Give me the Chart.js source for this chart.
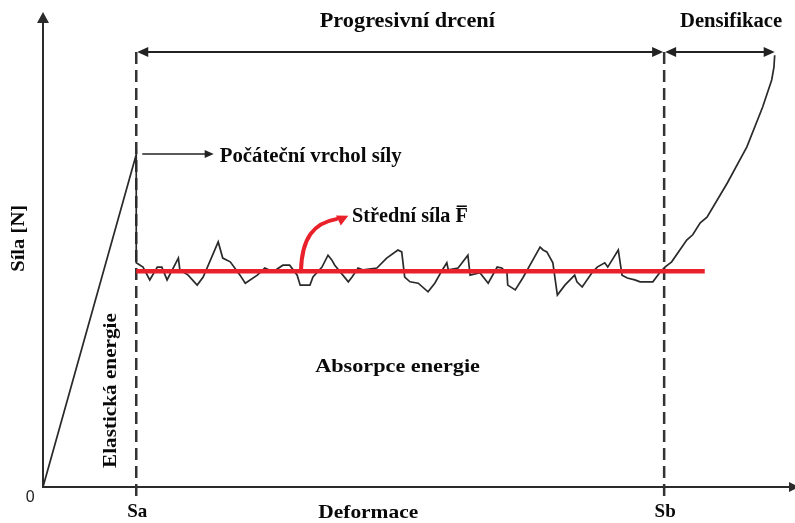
<!DOCTYPE html>
<html lang="cs">

<head>
    <meta charset="UTF-8">
    <title>Síla - deformace</title>
    <style>
        body { margin: 0; background: #fff; }
    </style>
</head>

<body>
    <div style="width: 795px; height: 523px;">
        <canvas id="myChart"></canvas>
    </div>

    <script src="https://cdn.jsdelivr.net/npm/chart.js"></script>

    <script>
        // deformace / sila v libovolnych jednotkach (0-100)
        let deformace = [0, 12.4, 12.4, 13.3, 14.2, 15.2, 15.8, 16.5, 18.0, 18.2, 19.3, 20.5, 21.3, 23.3, 23.9, 24.9, 26.2, 26.9,
            28.5, 29.5, 30.6, 31.9, 32.8, 33.8, 34.2, 35.5, 35.9, 37.1, 37.9, 38.4, 38.8, 40.6, 41.1, 41.9, 42.6, 44.4, 45.7,
            47.2, 47.7, 48.1, 48.8, 49.9, 51.2, 52.1, 53.1, 53.7, 53.9, 55.2, 56.5, 56.8, 58.1, 59.2, 60.4, 61.0, 61.7, 61.8,
            62.8, 63.8, 65.0, 66.1, 66.5, 67.0, 67.8, 68.4, 69.4, 70.7, 71.0, 71.7, 73.0, 73.7, 74.7, 75.1, 76.5, 77.0, 77.7,
            78.7, 79.4, 81.1, 82.0, 82.7, 83.6, 85.6, 86.4, 87.4, 88.3, 91.0, 93.6, 95.7, 96.9, 97.2, 97.3];
        let sila = [0, 70.0, 47.2, 46.3, 43.6, 46.3, 46.3, 43.6, 48.2, 45.7, 44.6, 42.5, 44.2, 51.6, 48.2, 47.4, 44.6, 42.9,
            44.6, 46.1, 45.3, 46.7, 46.7, 44.6, 42.5, 42.5, 44.2, 46.3, 48.8, 47.8, 46.7, 43.2, 44.2, 46.1, 45.7, 46.1, 48.2,
            49.9, 49.5, 44.2, 43.2, 42.9, 41.1, 42.9, 45.7, 47.2, 45.7, 46.1, 48.8, 44.6, 45.1, 42.9, 46.3, 46.1, 45.1, 42.5,
            41.5, 44.0, 47.4, 50.5, 49.9, 49.5, 47.2, 40.4, 42.5, 44.6, 43.2, 42.1, 45.1, 46.3, 47.2, 46.3, 49.9, 44.6, 44.0,
            43.6, 43.2, 43.2, 45.1, 46.3, 47.4, 52.0, 53.1, 55.6, 56.8, 64.0, 71.6, 80.0, 85.7, 88.4, 90.9];

        let v_sa = 12.4;
        let v_sb = 82.6;
        let v_stredniSila = 45.4;
        let v_stredniRozsah = [12.4, 88.0];
        let v_tickLabels = ["0", "Sa", "Sb"];
        let v_tickPos = [0, v_sa, v_sb];

        let v_points = [];
        for (let i = 0; i < deformace.length; i++) {
            v_points.push({ x: deformace[i], y: sila[i] });
        }

        const SERIF = '"Liberation Serif", "Times New Roman", serif';

        function f_arrow(ctx, x, y, angle, len, w) {
            ctx.save();
            ctx.translate(x, y);
            ctx.rotate(angle);
            ctx.beginPath();
            ctx.moveTo(0, 0);
            ctx.lineTo(-len, -w / 2);
            ctx.lineTo(-len, w / 2);
            ctx.closePath();
            ctx.fill();
            ctx.restore();
        }

        // vodorovny text natazeny na sirku x0..x1
        function f_text(ctx, text, x0, x1, y, size) {
            ctx.save();
            ctx.font = "bold " + size + "px " + SERIF;
            ctx.textAlign = "left";
            ctx.textBaseline = "alphabetic";
            let w = ctx.measureText(text).width;
            ctx.translate(x0, y);
            ctx.scale((x1 - x0) / w, 1);
            ctx.fillText(text, 0, 0);
            ctx.restore();
        }

        // svisly text, cte se zdola nahoru: baseline x, dolni y0, horni y1
        function f_vtext(ctx, text, x, y0, y1, size) {
            ctx.save();
            ctx.font = "bold " + size + "px " + SERIF;
            ctx.textAlign = "left";
            ctx.textBaseline = "alphabetic";
            let w = ctx.measureText(text).width;
            ctx.translate(x, y0);
            ctx.rotate(-Math.PI / 2);
            ctx.scale((y0 - y1) / w, 1);
            ctx.fillText(text, 0, 0);
            ctx.restore();
        }

        const annot = {
            id: "annot",
            beforeDatasetsDraw(chart) {
                const ctx = chart.ctx;
                const X = v => chart.scales.x.getPixelForValue(v);
                const Y = v => chart.scales.y.getPixelForValue(v);
                ctx.save();

                // osy
                ctx.strokeStyle = "#2b2b2b";
                ctx.fillStyle = "#2b2b2b";
                ctx.lineWidth = 2;
                ctx.beginPath();
                ctx.moveTo(X(0), Y(0) + 1);
                ctx.lineTo(X(0), Y(98));
                ctx.moveTo(X(0) - 1, Y(0));
                ctx.lineTo(X(100), Y(0));
                ctx.stroke();
                f_arrow(ctx, X(0), Y(100), -Math.PI / 2, 11, 12);
                f_arrow(ctx, X(100) + 4, Y(0), 0, 10, 10);

                // carkovane cary Sa, Sb
                let topY = 91.6;
                ctx.strokeStyle = "#333";
                ctx.lineWidth = 2.5;
                ctx.setLineDash([12, 6]);
                [v_sa, v_sb].forEach(s => {
                    ctx.beginPath();
                    ctx.moveTo(X(s), Y(topY));
                    ctx.lineTo(X(s), Y(-2.4));
                    ctx.stroke();
                });
                ctx.setLineDash([]);

                // sipky nahore
                let endX = deformace[deformace.length - 1];
                ctx.strokeStyle = "#222";
                ctx.fillStyle = "#222";
                ctx.lineWidth = 2;
                ctx.beginPath();
                ctx.moveTo(X(v_sa) + 4, Y(topY));
                ctx.lineTo(X(v_sb) - 4, Y(topY));
                ctx.moveTo(X(v_sb) + 4, Y(topY));
                ctx.lineTo(X(endX) - 4, Y(topY));
                ctx.stroke();
                f_arrow(ctx, X(v_sa) + 1, Y(topY), Math.PI, 11, 10);
                f_arrow(ctx, X(v_sb) - 1, Y(topY), 0, 11, 10);
                f_arrow(ctx, X(v_sb) + 1, Y(topY), Math.PI, 11, 10);
                f_arrow(ctx, X(endX), Y(topY), 0, 11, 10);

                // sipka k pocatecnimu vrcholu
                ctx.lineWidth = 1.5;
                ctx.beginPath();
                ctx.moveTo(X(13.2), Y(70.1));
                ctx.lineTo(X(21.6), Y(70.1));
                ctx.stroke();
                f_arrow(ctx, X(22.7), Y(70.1), 0, 9, 8);

                ctx.restore();
            },
            afterDatasetsDraw(chart) {
                const ctx = chart.ctx;
                const X = v => chart.scales.x.getPixelForValue(v);
                const Y = v => chart.scales.y.getPixelForValue(v);
                ctx.save();

                // cervena zahnuta sipka
                ctx.strokeStyle = "#e8212b";
                ctx.fillStyle = "#e8212b";
                ctx.lineWidth = 4;
                ctx.lineCap = "round";
                ctx.beginPath();
                ctx.moveTo(X(34.3), Y(v_stredniSila));
                ctx.bezierCurveTo(X(34.4), Y(52.4), X(36.0), Y(55.6), X(39.0), Y(56.4));
                ctx.stroke();
                f_arrow(ctx, X(40.6), Y(57.1), -0.45, 11, 11);

                // popisky
                ctx.fillStyle = "#0a0a0a";
                f_text(ctx, "Progresivní drcení", X(36.8), X(60.1), Y(96.8), 20);
                f_text(ctx, "Densifikace", X(84.7), X(98.3), Y(96.8), 20);
                f_text(ctx, "Počáteční vrchol síly", X(23.5), X(47.7), Y(68.4), 20);
                f_text(ctx, "Střední síla F\u0305", X(41.1), X(56.5), Y(55.8), 20);
                f_text(ctx, "Absorpce energie", X(36.2), X(58.1), Y(24.2), 19);
                f_text(ctx, "Deformace", X(36.6), X(49.9), Y(-6.5), 19);
                f_vtext(ctx, "Elastická energie", X(9.7), Y(4.0), Y(36.6), 19);
                f_vtext(ctx, "Síla [N]", X(-2.5), Y(45.3), Y(59.4), 19);

                // znacky na ose x
                ctx.textAlign = "center";
                ctx.textBaseline = "alphabetic";
                for (let i = 0; i < v_tickLabels.length; i++) {
                    if (i == 0) {
                        ctx.font = '16px "Liberation Sans", Arial, sans-serif';
                        ctx.fillStyle = "#222";
                        ctx.fillText(v_tickLabels[i], X(-1.7), Y(-3.1));
                    } else {
                        ctx.font = "bold 19px " + SERIF;
                        ctx.fillStyle = "#0a0a0a";
                        ctx.fillText(v_tickLabels[i], X(v_tickPos[i]) + 1, Y(-6.4));
                    }
                }
                ctx.restore();
            }
        };

        const ctx = document.getElementById("myChart");

        new Chart(ctx, {
            type: "line",
            data: {
                datasets: [{
                    label: "Střední síla",
                    data: [{ x: v_stredniRozsah[0], y: v_stredniSila }, { x: v_stredniRozsah[1], y: v_stredniSila }],
                    borderColor: "#e8212b",
                    borderWidth: 4.5,
                    pointRadius: 0,
                    order: 0
                }, {
                    label: "Síla",
                    data: v_points,
                    borderColor: "#2a2a2a",
                    borderWidth: 1.7,
                    pointRadius: 0,
                    tension: 0,
                    order: 1
                }]
            },
            plugins: [annot],
            options: {
                responsive: true,
                maintainAspectRatio: false,
                animation: false,
                layout: { padding: { left: 43, top: 12, right: 0, bottom: 36 } },
                scales: {
                    x: { type: "linear", min: 0, max: 100, display: false },
                    y: { type: "linear", min: 0, max: 100, display: false }
                },
                plugins: {
                    legend: { display: false },
                    tooltip: { enabled: false }
                }
            }
        });
    </script>

</body>

</html>
